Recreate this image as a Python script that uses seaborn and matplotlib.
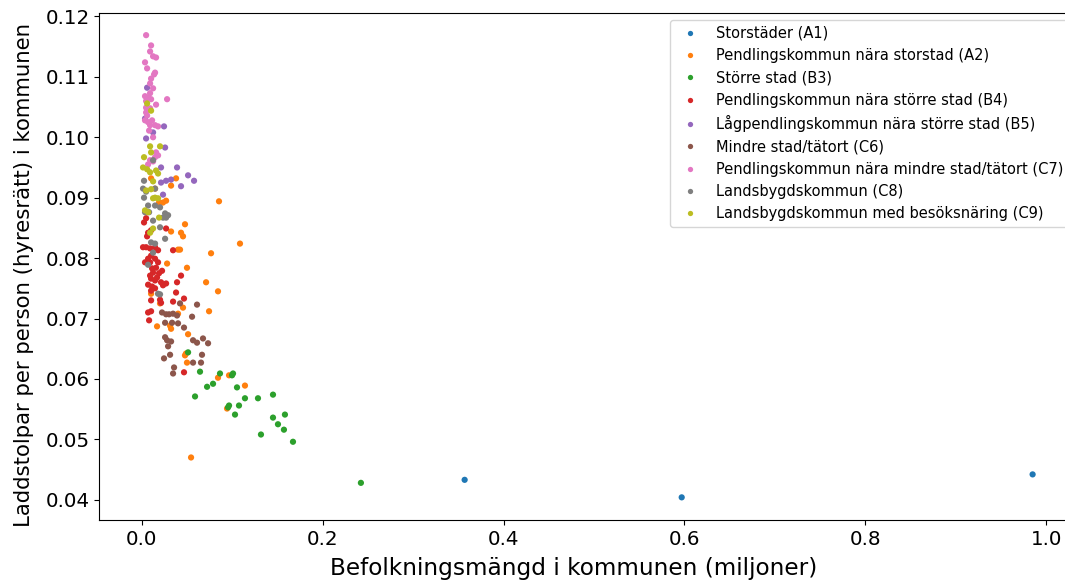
import matplotlib
matplotlib.use("Agg")
import matplotlib.pyplot as plt
import pandas as pd
import seaborn as sns

# Municipality groups (SKR classification)
groups = [
    "Storstäder (A1)",
    "Pendlingskommun nära storstad (A2)",
    "Större stad (B3)",
    "Pendlingskommun nära större stad (B4)",
    "Lågpendlingskommun nära större stad (B5)",
    "Mindre stad/tätort (C6)",
    "Pendlingskommun nära mindre stad/tätort (C7)",
    "Landsbygdskommun (C8)",
    "Landsbygdskommun med besöksnäring (C9)",
]

# Population (millions) and charging points per person, per group
a1_pop = [0.357, 0.597, 0.985]
a1_val = [0.0433, 0.0404, 0.0442]

a2_pop = [0.0103, 0.0379, 0.0324, 0.0147, 0.0269, 0.0235, 0.0191, 0.0854, 0.0478, 0.0324,
          0.0434, 0.0456, 0.1086, 0.0401, 0.0423, 0.0766, 0.0280, 0.0500, 0.0711, 0.0843,
          0.0103, 0.0202, 0.0456, 0.0744, 0.0401, 0.0169, 0.0313, 0.0324, 0.0512, 0.0489,
          0.0478, 0.0500, 0.0843, 0.0965, 0.1141, 0.0943, 0.0545]
a2_val = [0.0932, 0.0932, 0.0920, 0.0915, 0.0895, 0.0892, 0.0892, 0.0894, 0.0856, 0.0844,
          0.0842, 0.0836, 0.0824, 0.0814, 0.0814, 0.0808, 0.0791, 0.0784, 0.0760, 0.0745,
          0.0741, 0.0725, 0.0718, 0.0712, 0.0708, 0.0687, 0.0688, 0.0683, 0.0674, 0.0642,
          0.0639, 0.0627, 0.0602, 0.0606, 0.0589, 0.0551, 0.0470]

b3_pop = [0.0512, 0.0644, 0.0865, 0.0998, 0.1009, 0.0788, 0.0722, 0.1053, 0.0589, 0.1141,
          0.1285, 0.1451, 0.0965, 0.0954, 0.1075, 0.1031, 0.1451, 0.1583, 0.1506, 0.1572,
          0.1318, 0.1672, 0.2423]
b3_val = [0.0644, 0.0612, 0.0609, 0.0606, 0.0609, 0.0592, 0.0587, 0.0586, 0.0571, 0.0568,
          0.0568, 0.0574, 0.0556, 0.0553, 0.0556, 0.0541, 0.0536, 0.0541, 0.0525, 0.0516,
          0.0508, 0.0496, 0.0428]

b4_pop = [0.0048, 0.0025, 0.0059, 0.0070, 0.0103, 0.0269, 0.0014, 0.0048, 0.0092, 0.0147,
          0.0180, 0.0346, 0.0103, 0.0147, 0.0070, 0.0036, 0.0092, 0.0180, 0.0158, 0.0114,
          0.0224, 0.0125, 0.0191, 0.0092, 0.0169, 0.0103, 0.0147, 0.0213, 0.0269, 0.0235,
          0.0070, 0.0114, 0.0434, 0.0390, 0.0103, 0.0147, 0.0379, 0.0103, 0.0202, 0.0213,
          0.0346, 0.0467, 0.0103, 0.0070, 0.0081, 0.0467]
b4_val = [0.0866, 0.0859, 0.0836, 0.0842, 0.0846, 0.0849, 0.0818, 0.0818, 0.0816, 0.0818,
          0.0813, 0.0813, 0.0804, 0.0799, 0.0799, 0.0793, 0.0793, 0.0793, 0.0784, 0.0783,
          0.0779, 0.0776, 0.0775, 0.0771, 0.0768, 0.0766, 0.0763, 0.0760, 0.0758, 0.0755,
          0.0756, 0.0753, 0.0771, 0.0760, 0.0746, 0.0750, 0.0743, 0.0730, 0.0731, 0.0726,
          0.0728, 0.0733, 0.0712, 0.0710, 0.0697, 0.0611]

b5_pop = [0.0059, 0.0036, 0.0246, 0.0125, 0.0048, 0.0258, 0.0213, 0.0390, 0.0512, 0.0578,
          0.0213, 0.0269, 0.0324, 0.0434, 0.0235]
b5_val = [0.1082, 0.1031, 0.1018, 0.1008, 0.0998, 0.0983, 0.0950, 0.0950, 0.0937, 0.0928,
          0.0925, 0.0928, 0.0930, 0.0919, 0.0905]

c6_pop = [0.0423, 0.0611, 0.0224, 0.0269, 0.0302, 0.0346, 0.0390, 0.0556, 0.0258, 0.0335,
          0.0401, 0.0467, 0.0258, 0.0280, 0.0324, 0.0567, 0.0611, 0.0677, 0.0733, 0.0291,
          0.0666, 0.0313, 0.0246, 0.0567, 0.0655, 0.0357, 0.0346]
c6_val = [0.0725, 0.0723, 0.0710, 0.0707, 0.0707, 0.0708, 0.0705, 0.0703, 0.0693, 0.0693,
          0.0692, 0.0685, 0.0669, 0.0664, 0.0662, 0.0664, 0.0660, 0.0667, 0.0659, 0.0654,
          0.0640, 0.0640, 0.0634, 0.0627, 0.0627, 0.0619, 0.0609]

c7_pop = [0.0048, 0.0103, 0.0092, 0.0125, 0.0158, 0.0036, 0.0059, 0.0147, 0.0136, 0.0103,
          0.0092, 0.0125, 0.0092, 0.0036, 0.0070, 0.0103, 0.0280, 0.0158, 0.0048, 0.0092,
          0.0048, 0.0036, 0.0070, 0.0114, 0.0092, 0.0147, 0.0180, 0.0125, 0.0158, 0.0180,
          0.0147, 0.0092, 0.0125, 0.0070, 0.0059, 0.0081, 0.0048]
c7_val = [0.1169, 0.1152, 0.1142, 0.1134, 0.1132, 0.1124, 0.1114, 0.1107, 0.1104, 0.1097,
          0.1089, 0.1081, 0.1073, 0.1068, 0.1066, 0.1063, 0.1063, 0.1054, 0.1049, 0.1048,
          0.1041, 0.1028, 0.1025, 0.1028, 0.1020, 0.1020, 0.1018, 0.1000, 0.0975, 0.0970,
          0.0967, 0.0962, 0.0960, 0.0955, 0.1036, 0.1011, 0.1060]

c8_pop = [0.0025, 0.0125, 0.0014, 0.0048, 0.0025, 0.0147, 0.0070, 0.0036, 0.0081, 0.0147,
          0.0202, 0.0258, 0.0291, 0.0269, 0.0235, 0.0125, 0.0202, 0.0258, 0.0103, 0.0147,
          0.0125, 0.0070, 0.0180, 0.0202]
c8_val = [0.0928, 0.0962, 0.0915, 0.0910, 0.0900, 0.0915, 0.0887, 0.0876, 0.0876, 0.0887,
          0.0884, 0.0874, 0.0871, 0.0867, 0.0867, 0.0862, 0.0851, 0.0832, 0.0826, 0.0824,
          0.0809, 0.0789, 0.0741, 0.0740]

c9_pop = [0.0059, 0.0103, 0.0092, 0.0202, 0.0103, 0.0025, 0.0014, 0.0059, 0.0092, 0.0158,
          0.0180, 0.0125, 0.0048, 0.0103, 0.0125, 0.0147, 0.0180, 0.0036, 0.0070, 0.0191,
          0.0125, 0.0092]
c9_val = [0.1056, 0.1044, 0.0985, 0.0985, 0.0975, 0.0967, 0.0950, 0.0947, 0.0942, 0.0945,
          0.0940, 0.0927, 0.0912, 0.0914, 0.0899, 0.0900, 0.0899, 0.0879, 0.0876, 0.0867,
          0.0849, 0.0842]

series = [
    (a1_pop, a1_val), (a2_pop, a2_val), (b3_pop, b3_val), (b4_pop, b4_val),
    (b5_pop, b5_val), (c6_pop, c6_val), (c7_pop, c7_val), (c8_pop, c8_val),
    (c9_pop, c9_val),
]

frames = []
for name, (pop, val) in zip(groups, series):
    frames.append(pd.DataFrame({"pop": pop, "val": val, "grupp": name}))
df = pd.concat(frames, ignore_index=True)

fig = plt.figure(figsize=(10.65, 5.82), dpi=100)
ax = fig.add_axes([0.0932, 0.106, 0.918, 0.872])

sns.scatterplot(
    data=df, x="pop", y="val", hue="grupp", hue_order=groups,
    palette="tab10", s=20, linewidth=0, alpha=1.0, ax=ax,
)

ax.set_xlim(-0.047, 1.034)
ax.set_ylim(0.0366, 0.1206)
ax.set_xticks([0.0, 0.2, 0.4, 0.6, 0.8, 1.0])
ax.set_yticks([0.04, 0.05, 0.06, 0.07, 0.08, 0.09, 0.10, 0.11, 0.12])
ax.tick_params(labelsize=14.3)
ax.set_xlabel("Befolkningsmängd i kommunen (miljoner)", fontsize=16.7,
              labelpad=6, x=0.4855, ha="center")
ax.set_ylabel("Laddstolpar per person (hyresrätt) i kommunen", fontsize=15.3,
              labelpad=8, y=0.4833, ha="center")

old = ax.get_legend()
handles = old.legend_handles
labels = [t.get_text() for t in old.get_texts()]
old.remove()
ax.legend(handles, labels, loc="upper right", fontsize=10.5, markerscale=0.85)

fig.savefig("out.png", dpi=100)
